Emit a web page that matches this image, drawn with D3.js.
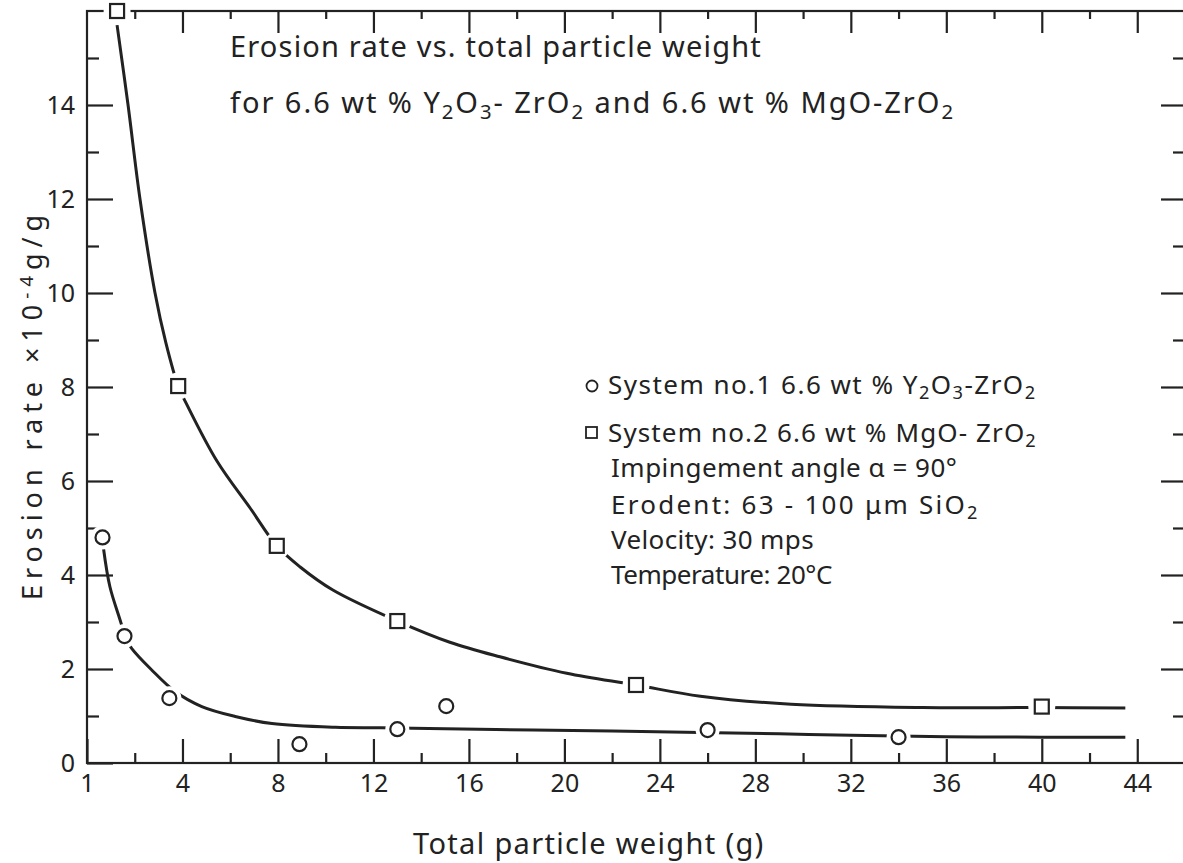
<!DOCTYPE html>
<html><head><meta charset="utf-8">
<script src="https://cdn.jsdelivr.net/npm/d3@7"></script>
<style>
body{margin:0;background:#fff}
text{font-family:"Noto Sans","DejaVu Sans",sans-serif;fill:#222}
</style>
</head><body><svg id="c" width="1183" height="863"></svg>
<script>
// ---- data ----
const xMajorTicks = [0,4,8,12,16,20,24,28,32,36,40,44];
const xTickLabels = ["1","4","8","12","16","20","24","28","32","36","40","44"];
const xMinorTicks = [2,6,10,14,18,22,26,30,34,38,42];
const yMajorTicks = [0,2,4,6,8,10,12,14];
const yTickLabels = ["0","2","4","6","8","10","12","14"];
const yMinorTicks = [1,3,5,7,9,11,13,15];

// System no.1 (circles)
const sys1X = [0.65,1.57,3.45,8.9,13,15.05,26,34];
const sys1Y = [4.8,2.7,1.38,0.40,0.72,1.21,0.70,0.55];
// System no.2 (squares)
const sys2X = [1.26,3.82,7.95,13,23,40];
const sys2Y = [16,8.02,4.62,3.02,1.66,1.20];

// fitted curves
const fit1X = [0.69,0.96,1.43,1.57,1.87,2.71,3.69,4.81,6.21,7.75,10.4,12.3,15,18.7,22,25.7,29,32,36,40,43.5];
const fit1Y = [4.57,3.75,2.97,2.70,2.44,1.98,1.52,1.20,0.99,0.84,0.76,0.75,0.73,0.70,0.68,0.65,0.62,0.59,0.56,0.55,0.55];
const fit2X = [1.26,1.72,2.22,2.85,3.3,3.82,4.19,5.45,6.84,7.95,8.93,10.3,13,15.2,17.3,20.1,23,25.7,29.5,35,40,43.5];
const fit2Y = [15.7,14.0,12.0,10.0,8.95,8.02,7.62,6.42,5.42,4.62,4.17,3.68,3.02,2.57,2.26,1.91,1.66,1.42,1.25,1.18,1.18,1.17];

const titleLine1 = "Erosion rate vs. total particle weight";
const xTitle = "Total particle weight  (g)";

// ---- layout ----
const svg = d3.select("#c");
const x = d3.scaleLinear().domain([0,46]).range([87,1185]);
const y = d3.scaleLinear().domain([0,16]).range([763,11]);
const ink = "#222";

// frame
svg.append("rect").attr("x",x(0)).attr("y",y(16)).attr("width",x(46)-x(0)).attr("height",y(0)-y(16))
  .attr("fill","none").attr("stroke",ink).attr("stroke-width",2.2);

function styleAxis(g){
  g.select(".domain").remove();
  g.selectAll("line").attr("stroke",ink).attr("stroke-width",2.2);
  g.selectAll("text").style("font-size","25px").attr("fill",ink).style("font-family","'Noto Sans',sans-serif");
}
// bottom
svg.append("g").attr("transform",`translate(0,${y(0)})`)
  .call(d3.axisBottom(x).tickValues(xMajorTicks).tickSize(-24).tickPadding(11)
        .tickFormat((d,i)=>xTickLabels[i])).call(styleAxis);
svg.append("g").attr("transform",`translate(0,${y(0)})`)
  .call(d3.axisBottom(x).tickValues(xMinorTicks).tickSize(-10).tickFormat("")).call(styleAxis);
// top
svg.append("g").attr("transform",`translate(0,${y(16)})`)
  .call(d3.axisTop(x).tickValues(xMajorTicks.filter(d=>d>0)).tickSize(-22).tickFormat("")).call(styleAxis);
svg.append("g").attr("transform",`translate(0,${y(16)})`)
  .call(d3.axisTop(x).tickValues(xMinorTicks).tickSize(-8).tickFormat("")).call(styleAxis);
// left
svg.append("g").attr("transform",`translate(${x(0)},0)`)
  .call(d3.axisLeft(y).tickValues(yMajorTicks).tickSize(-26).tickPadding(12)
        .tickFormat((d,i)=>yTickLabels[i])).call(styleAxis);
svg.append("g").attr("transform",`translate(${x(0)},0)`)
  .call(d3.axisLeft(y).tickValues(yMinorTicks).tickSize(-12).tickFormat("")).call(styleAxis);
// right
svg.append("g").attr("transform",`translate(${x(46)},0)`)
  .call(d3.axisRight(y).tickValues(yMajorTicks.filter(d=>d>0)).tickSize(-24).tickFormat("")).call(styleAxis);
svg.append("g").attr("transform",`translate(${x(46)},0)`)
  .call(d3.axisRight(y).tickValues(yMinorTicks).tickSize(-12).tickFormat("")).call(styleAxis);

// curves
const line = d3.line().x(d=>x(d[0])).y(d=>y(d[1])).curve(d3.curveCatmullRom.alpha(0.5));
[[fit1X,fit1Y],[fit2X,fit2Y]].forEach(([xs,ys])=>{
  svg.append("path").datum(xs.map((v,i)=>[v,ys[i]])).attr("d",line)
    .attr("fill","none").attr("stroke",ink).attr("stroke-width",3);
});

// halos + markers
const s1 = sys1X.map((v,i)=>[v,sys1Y[i]]);
const s2 = sys2X.map((v,i)=>[v,sys2Y[i]]);
svg.selectAll(".h1").data(s1).join("circle").attr("cx",d=>x(d[0])).attr("cy",d=>y(d[1])).attr("r",12).attr("fill","#fff");
svg.selectAll(".h2").data(s2).join("circle").attr("cx",d=>x(d[0])).attr("cy",d=>y(d[1])).attr("r",13.5).attr("fill","#fff");
svg.selectAll(".m1").data(s1).join("circle").attr("cx",d=>x(d[0])).attr("cy",d=>y(d[1])).attr("r",7)
  .attr("fill","#fff").attr("stroke",ink).attr("stroke-width",2.2);
svg.selectAll(".m2").data(s2).join("rect").attr("x",d=>x(d[0])-7).attr("y",d=>y(d[1])-7).attr("width",14).attr("height",14)
  .attr("fill","#fff").attr("stroke",ink).attr("stroke-width",2.2);

// text helpers
function rich(sel, parts){
  parts.forEach(p=>{
    const [t,s] = Array.isArray(p)?p:[p,0];
    const ts = sel.append("tspan").text(t);
    if(s==="sub") ts.attr("baseline-shift","-30%").style("font-size","70%");
    if(s==="sup") ts.attr("baseline-shift","48%").style("font-size","70%");
  });
  return sel;
}
function fit(sel, width){
  const n = sel.node();
  const L = n.getComputedTextLength();
  const chars = n.textContent.length;
  sel.style("letter-spacing", ((width - L)/chars) + "px");
  return sel;
}

// title
fit(svg.append("text").attr("x",230).attr("y",57).style("font-size","29px").text(titleLine1), 532);
fit(rich(svg.append("text").attr("x",230).attr("y",113).style("font-size","29px"),
  ["for 6.6 wt % Y",["2","sub"],"O",["3","sub"],"- ZrO",["2","sub"]," and 6.6 wt % MgO-ZrO",["2","sub"]]), 725);

// legend
svg.append("circle").attr("cx",592).attr("cy",386).attr("r",5.5).attr("fill","#fff").attr("stroke",ink).attr("stroke-width",1.8);
svg.append("rect").attr("x",586).attr("y",427).attr("width",11).attr("height",11).attr("fill","#fff").attr("stroke",ink).attr("stroke-width",1.8);
fit(rich(svg.append("text").attr("x",608).attr("y",394).style("font-size","26px"),
  ["System no.1 6.6 wt %  Y",["2","sub"],"O",["3","sub"],"-ZrO",["2","sub"]]), 430);
fit(rich(svg.append("text").attr("x",608).attr("y",442).style("font-size","26px"),
  ["System no.2 6.6 wt %  MgO- ZrO",["2","sub"]]), 430);
fit(svg.append("text").attr("x",611).attr("y",477).style("font-size","26px").text("Impingement angle  \u03B1 = 90\u00B0"), 347);
fit(rich(svg.append("text").attr("x",611).attr("y",514).style("font-size","26px"),
  ["Erodent: 63 - 100 \u03BCm  SiO",["2","sub"]]), 371);
fit(svg.append("text").attr("x",611).attr("y",549).style("font-size","26px").text("Velocity: 30 mps"), 203);
fit(svg.append("text").attr("x",611).attr("y",584).style("font-size","26px").text("Temperature: 20\u00B0C"), 221);

// axis titles
fit(svg.append("text").attr("x",413).attr("y",854).style("font-size","29px").text(xTitle), 353);
fit(rich(svg.append("text").attr("transform","translate(42,600) rotate(-90)").style("font-size","27px"),
  ["Erosion rate  \u00D710",["-4","sup"],"g/g"]), 397);
</script>
</body></html>
